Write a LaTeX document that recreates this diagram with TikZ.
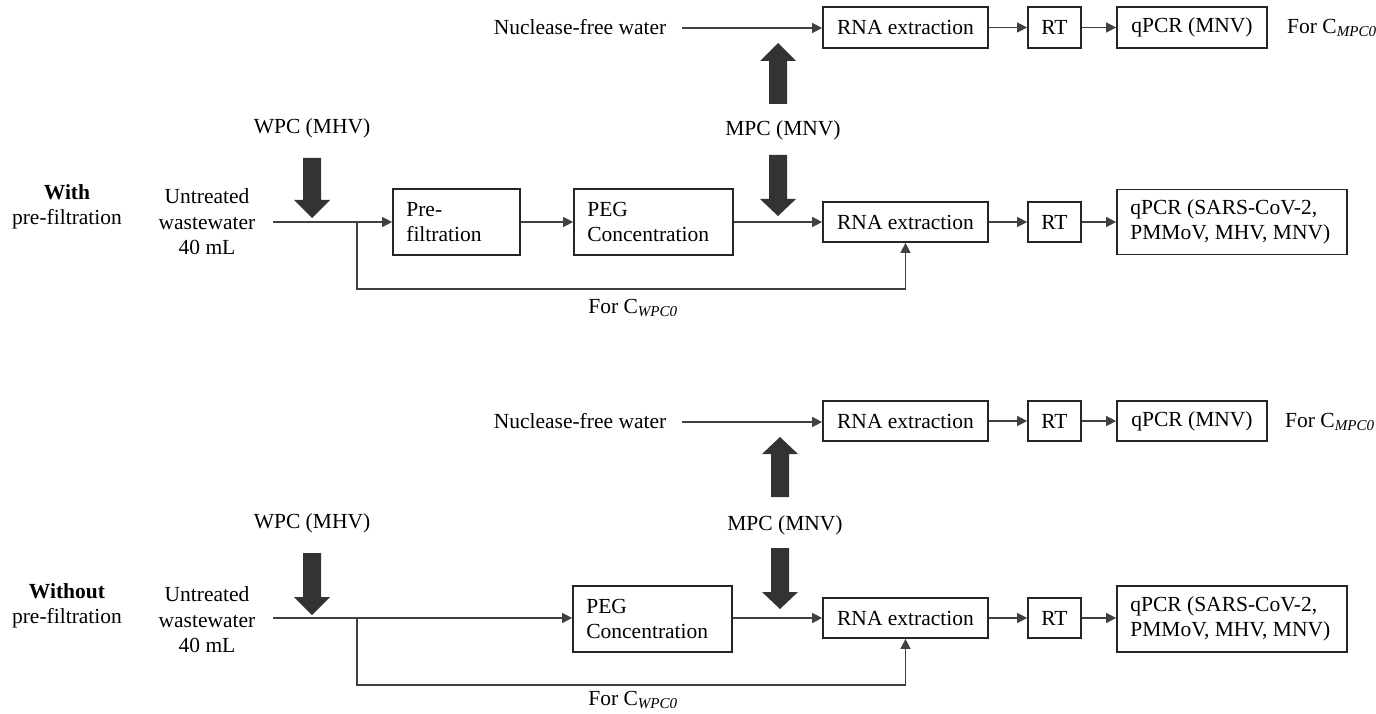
\documentclass[tikz,border=0pt]{standalone}
\usepackage{fontspec}
\setmainfont{Liberation Serif}
\usetikzlibrary{arrows.meta}
\newcommand\fs{\fontsize{21.5}{25.5}\selectfont}
\newcommand\blockarrow[4]{% x, tail y, head base y, tip y
  \fill[blockgray] ({#1-9},#2) -- ({#1+9},#2) -- ({#1+9},#3) -- ({#1+18},#3) -- (#1,#4) -- ({#1-18},#3) -- ({#1-9},#3) -- cycle;}
\begin{document}
\begin{tikzpicture}[x=1pt,y=-1pt,
  box/.style={draw=black!85, line width=1.7pt, inner sep=0pt, minimum height=41pt, font=\fs},
  mbox/.style={draw=black!85, line width=1.7pt, inner sep=0pt, minimum height=66pt},
  intext/.style={font=\fs, inner sep=0pt, align=left, anchor=west},
  lbl/.style={font=\fs, inner sep=0pt},
  conn/.style={draw=black!75, line width=1.1pt, -{Triangle[length=10pt,width=10pt]}},
  line/.style={draw=black!75, line width=1.1pt}]
\colorlet{blockgray}{black!80}
\useasboundingbox (0,0) rectangle (1376,714);

% ---------------- With pre-filtration ----------------
\node[lbl, align=center] (with) at (67,207) {\textbf{With}\\pre-filtration};
\node[lbl, align=center] (uw1) at (207,222) {Untreated\\wastewater\\40 mL};
\node[lbl] (wpc1) at (312,128) {WPC (MHV)};
\node[lbl] (nfw1) at (580,27) {Nuclease-free water};
\node[lbl] (mpc1) at (783,130) {MPC (MNV)};
\node[box, minimum width=165pt] (rnaA1) at (905.5,27.5) {RNA extraction};
\node[box, minimum width=53pt] (rtA1) at (1054.5,27.5) {RT};
\node[box, minimum width=150pt] (qA1) at (1192,27.5) {qPCR (MNV)};
\node[lbl, anchor=west] (forM1) at (1287,28) {For C\textsubscript{\itshape MPC0}};
\node[mbox, minimum width=127pt] (pre1) at (456.5,222) {};
\node[intext] (pre1t) at ([xshift=14pt]pre1.west) {Pre-\\filtration};
\node[mbox, minimum width=159pt] (peg1) at (653.5,222) {};
\node[intext] (peg1t) at ([xshift=14pt]peg1.west) {PEG\\Concentration};
\node[box, minimum width=165pt, minimum height=40pt] (rnaB1) at (905.5,222) {RNA extraction};
\node[box, minimum width=53pt, minimum height=40pt] (rtB1) at (1054.5,222) {RT};
\node[mbox, minimum width=230pt, minimum height=65pt] (qB1) at (1232,222) {};
\node[intext] (qB1t) at ([xshift=14pt]qB1.west) {qPCR (SARS-CoV-2,\\PMMoV, MHV, MNV)};
\node[lbl] (forW1) at (633,308) {For C\textsubscript{\itshape WPC0}};
\coordinate (s1) at (273,222);
\coordinate (b1) at (357,222);
\coordinate (n1) at (682,28);

\draw[conn] (s1) -- (pre1.west |- s1);
\draw[conn] (pre1) -- (peg1);
\draw[conn] (peg1) -- (rnaB1);
\draw[conn] (rnaB1) -- (rtB1);
\draw[conn] (rtB1) -- (qB1);
\draw[conn] (n1) -- (rnaA1.west |- n1);
\draw[conn] (rnaA1) -- (rtA1);
\draw[conn] (rtA1) -- (qA1);
\draw[conn] (b1) -- (357,289) -| (rnaB1.south);

\blockarrow{312}{158}{200}{218}
\blockarrow{778}{155}{199}{216}
\blockarrow{778}{104}{61}{43}

% ---------------- Without pre-filtration ----------------
\node[lbl, align=center] (with2) at (67,606) {\textbf{Without}\\pre-filtration};
\node[lbl, align=center] (uw2) at (207,620) {Untreated\\wastewater\\40 mL};
\node[lbl] (wpc2) at (312,523) {WPC (MHV)};
\node[lbl] (nfw2) at (580,421) {Nuclease-free water};
\node[lbl] (mpc2) at (785,525) {MPC (MNV)};
\node[box, minimum width=165pt, minimum height=40pt] (rnaA2) at (905.5,421) {RNA extraction};
\node[box, minimum width=53pt, minimum height=40pt] (rtA2) at (1054.5,421) {RT};
\node[box, minimum width=150pt, minimum height=40pt] (qA2) at (1192,421) {qPCR (MNV)};
\node[lbl, anchor=west] (forM2) at (1285,422) {For C\textsubscript{\itshape MPC0}};
\node[mbox, minimum width=159pt] (peg2) at (652.5,619) {};
\node[intext] (peg2t) at ([xshift=14pt]peg2.west) {PEG\\Concentration};
\node[box, minimum width=165pt, minimum height=40pt] (rnaB2) at (905.5,618) {RNA extraction};
\node[box, minimum width=53pt, minimum height=40pt] (rtB2) at (1054.5,618) {RT};
\node[mbox, minimum width=230pt, minimum height=66pt] (qB2) at (1232,619) {};
\node[intext] (qB2t) at ([xshift=14pt]qB2.west) {qPCR (SARS-CoV-2,\\PMMoV, MHV, MNV)};
\node[lbl] (forW2) at (633,700) {For C\textsubscript{\itshape WPC0}};
\coordinate (s2) at (273,618);
\coordinate (b2) at (357,618);
\coordinate (n2) at (682,422);

\draw[conn] (s2) -- (peg2.west |- s2);
\draw[conn] (peg2.east |- rnaB2) -- (rnaB2);
\draw[conn] (rnaB2) -- (rtB2);
\draw[conn] (rtB2) -- (qB2.west |- rtB2);
\draw[conn] (n2) -- (rnaA2.west |- n2);
\draw[conn] (rnaA2) -- (rtA2);
\draw[conn] (rtA2) -- (qA2);
\draw[conn] (b2) -- (357,685) -| (rnaB2.south);

\blockarrow{312}{553}{597}{615}
\blockarrow{780}{548}{592}{609}
\blockarrow{780}{497}{454}{437}
\end{tikzpicture}
\end{document}
